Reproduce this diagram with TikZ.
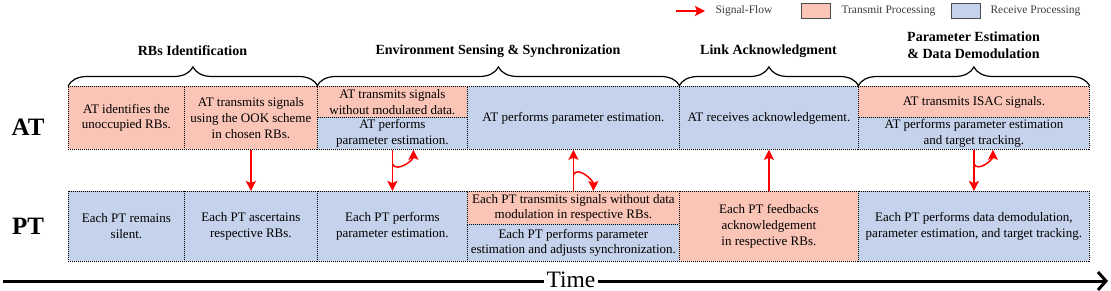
\documentclass[tikz,border=0pt]{standalone}
\usepackage{fontspec}
\setmainfont{Liberation Serif}
\usetikzlibrary{arrows.meta,decorations.pathreplacing,calc}
\definecolor{TxPink}{RGB}{250,196,182}
\definecolor{RxBlue}{RGB}{197,210,235}
\definecolor{FlowRed}{RGB}{255,0,0}
\definecolor{LegendText}{RGB}{60,60,60}

\begin{document}
\begin{tikzpicture}[x=1pt,y=1pt,
    cell/.style={draw=black,line width=0.8pt,dash pattern=on 1pt off 1pt,
                 inner sep=0pt,anchor=north west,align=center,
                 font=\fontsize{13}{15.8}\selectfont},
    tx/.style={cell,fill=TxPink},
    rx/.style={cell,fill=RxBlue},
    phase/.style={font=\fontsize{14}{17}\selectfont\bfseries,align=center},
    side/.style={font=\fontsize{25}{30}\selectfont\bfseries},
    flow/.style={draw=FlowRed,line width=1.5pt,
                 -{Stealth[length=10pt,width=10pt,inset=2pt]}},
    grp/.style={draw,line width=1.2pt,decorate,
                decoration={brace,amplitude=19pt}},
    legbox/.style={draw=black!70,line width=0.6pt,inner sep=0pt,
                   minimum width=29pt,minimum height=15pt},
    legtext/.style={font=\fontsize{11.5}{13}\selectfont,anchor=west,
                    text=LegendText}]
  \useasboundingbox (0,0) rectangle (1111,-291);

  % legend
  \coordinate (sf0) at (676,-11);
  \coordinate (sf1) at (705,-11);
  \draw[flow] (sf0) -- (sf1);
  \node[legtext] (sftext) at (712,-11) {Signal-Flow};
  \node[legbox,fill=TxPink] (lgtx) at (815.5,-10.5) {};
  \node[legtext] (lgtxtext) at (838,-11) {Transmit Processing};
  \node[legbox,fill=RxBlue] (lgrx) at (966,-10.5) {};
  \node[legtext] (lgrxtext) at (987,-11) {Receive Processing};

  % AT row
  \node[tx,minimum width=116pt,minimum height=63pt] (at1) at (68,-86)
    {AT identifies the\\unoccupied RBs.};
  \node[tx,minimum width=133pt,minimum height=63pt] (at2) at (184,-86)
    {AT transmits signals\\using the OOK scheme\\in chosen RBs.};
  \node[tx,minimum width=150pt,minimum height=31pt] (at3a) at (317,-86)
    {AT transmits signals\\without modulated data.};
  \node[rx,minimum width=150pt,minimum height=32pt] (at3b) at (317,-117)
    {AT performs\\parameter estimation.};
  \node[rx,minimum width=212pt,minimum height=63pt] (at4) at (467,-86)
    {AT performs parameter estimation.};
  \node[rx,minimum width=179pt,minimum height=63pt] (at5) at (679,-86)
    {AT receives acknowledgement.};
  \node[tx,minimum width=231pt,minimum height=31pt] (at6a) at (858,-86)
    {AT transmits ISAC signals.};
  \node[rx,minimum width=231pt,minimum height=32pt] (at6b) at (858,-117)
    {AT performs parameter estimation\\and target tracking.};

  % PT row
  \node[rx,minimum width=116pt,minimum height=70pt] (pt1) at (68,-191)
    {Each PT remains\\silent.};
  \node[rx,minimum width=133pt,minimum height=70pt] (pt2) at (184,-191)
    {Each PT ascertains\\respective RBs.};
  \node[rx,minimum width=150pt,minimum height=70pt] (pt3) at (317,-191)
    {Each PT performs\\parameter estimation.};
  \node[tx,minimum width=212pt,minimum height=33pt] (pt4a) at (467,-191)
    {Each PT transmits signals without data\\modulation in respective RBs.};
  \node[rx,minimum width=212pt,minimum height=37pt] (pt4b) at (467,-224)
    {Each PT performs parameter\\estimation and adjusts synchronization.};
  \node[tx,minimum width=179pt,minimum height=70pt] (pt5) at (679,-191)
    {Each PT feedbacks\\acknowledgement\\in respective RBs.};
  \node[rx,minimum width=231pt,minimum height=70pt] (pt6) at (858,-191)
    {Each PT performs data demodulation,\\parameter estimation, and target tracking.};

  % side labels
  \node[side] (lat) at (28,-127) {AT};
  \node[side] (lpt) at (28,-226) {PT};

  % phases
  \draw[grp] (at1.north west) -- (at2.north east);
  \draw[grp] (at3a.north west) -- (at4.north east);
  \draw[grp] (at5.north west) -- (at5.north east);
  \draw[grp] (at6a.north west) -- (at6a.north east);
  \node[phase] (ph1) at (192.5,-51) {RBs Identification};
  \node[phase] (ph2) at (498,-51) {Environment Sensing \& Synchronization};
  \node[phase] (ph3) at (768.5,-51) {Link Acknowledgment};
  \node[phase] (ph4) at (973.5,-45) {Parameter Estimation\\\& Data Demodulation};

  % signal flow
  \draw[flow] (at2.south) -- (pt2.north);
  \draw[flow] (at3b.south) -- (pt3.north);
  \coordinate (h3) at ($(at3b.south)!0.35!(pt3.north)$);
  \coordinate (e3) at ($(at3b.south)+(21,0)$);
  \draw[flow] (h3) to[out=-60,in=-90] (e3);
  \draw[flow] (pt4a.north) -- (at4.south);
  \coordinate (h4) at ($(pt4a.north)!0.4!(at4.south)$);
  \coordinate (e4) at ($(pt4a.north)+(20,0)$);
  \draw[flow] (h4) to[out=60,in=90] (e4);
  \draw[flow] (pt5.north) -- (at5.south);
  \draw[flow] (at6b.south) -- (pt6.north);
  \coordinate (h6) at ($(at6b.south)!0.35!(pt6.north)$);
  \coordinate (e6) at ($(at6b.south)+(19,0)$);
  \draw[flow] (h6) to[out=-60,in=-90] (e6);

  % time axis
  \node[font=\fontsize{23.5}{28}\selectfont,inner xsep=2pt] (time) at (571,-280) {Time};
  \coordinate (t0) at (3,-281);
  \coordinate (t1) at (1108,-281);
  \draw[line width=3pt] (t0) -- (t0 -| time.west);
  \draw[line width=3pt,-{Straight Barb[length=8pt,width=18pt]}] (t1 -| time.east) -- (t1);
\end{tikzpicture}
\end{document}
